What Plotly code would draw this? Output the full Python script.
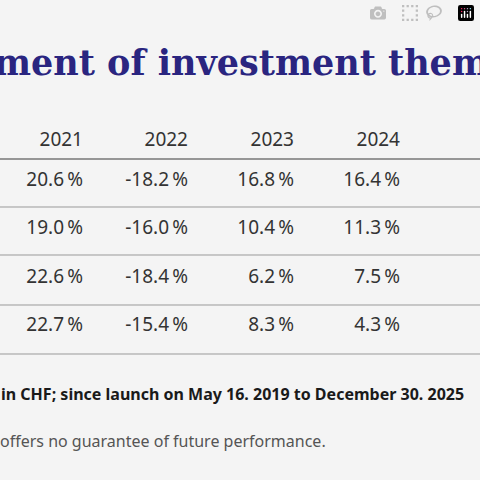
import plotly.graph_objects as go

years = ["2021", "2022", "2023", "2024", "2025"]
col_right = [83, 188, 294, 400, 506]
row_y = [181, 229, 278, 326]
theme_a = [20.6, -18.2, 16.8, 16.4, 14.9]
theme_b = [19.0, -16.0, 10.4, 11.3, 7.8]
theme_c = [22.6, -18.4, 6.2, 7.5, 7.7]
theme_d = [22.7, -15.4, 8.3, 4.3, 11.9]
rows = [theme_a, theme_b, theme_c, theme_d]

font = dict(family="Noto Sans", size=19, color="#333333")

fig = go.Figure()

fig.add_trace(go.Scatter(x=col_right, y=[141] * len(years), text=years, mode="text",
                         textposition="middle left", textfont=font, cliponaxis=False))
for yy, vals in zip(row_y, rows):
    fig.add_trace(go.Scatter(x=col_right, y=[yy] * len(vals),
                             text=["%.1f\u2009%%" % v for v in vals], mode="text",
                             textposition="middle left", textfont=font, cliponaxis=False))

# table rules
fig.add_shape(type="line", x0=0, x1=480, y0=159, y1=159, line=dict(color="#777777", width=1.5))
for yy in [207, 255, 305, 354]:
    fig.add_shape(type="line", x0=0, x1=480, y0=yy, y1=yy, line=dict(color="#999999", width=1))


def px(p):
    return p / 480.0


fig.add_annotation(x=px(-8), y=1 - px(63), xref="paper", yref="paper",
                   text="<b>ment of investment themes</b>", showarrow=False,
                   xanchor="left", yanchor="middle",
                   font=dict(family="DejaVu Serif", size=35, color="#2a2580"))
fig.add_annotation(x=px(-1), y=1 - px(394), xref="paper", yref="paper",
                   text="<b>in CHF; since launch on May 16. 2019 to December 30. 2025</b>",
                   showarrow=False, xanchor="left", yanchor="middle",
                   font=dict(family="Noto Sans", size=16, color="#1a1a1a"))
fig.add_annotation(x=px(-2), y=1 - px(441), xref="paper", yref="paper",
                   text="offers no guarantee of future performance.",
                   showarrow=False, xanchor="left", yanchor="middle",
                   font=dict(family="Noto Sans", size=16, color="#555555"))

fig.update_layout(
    width=480, height=480, showlegend=False,
    margin=dict(l=0, r=0, t=0, b=0),
    paper_bgcolor="#f4f4f4", plot_bgcolor="#f4f4f4",
    xaxis=dict(range=[0, 480], visible=False, fixedrange=True),
    yaxis=dict(range=[480, 0], visible=False, fixedrange=True),
)
fig.write_html("out.html", post_script="document.body.style.margin='0';document.body.style.background='#f4f4f4';")
